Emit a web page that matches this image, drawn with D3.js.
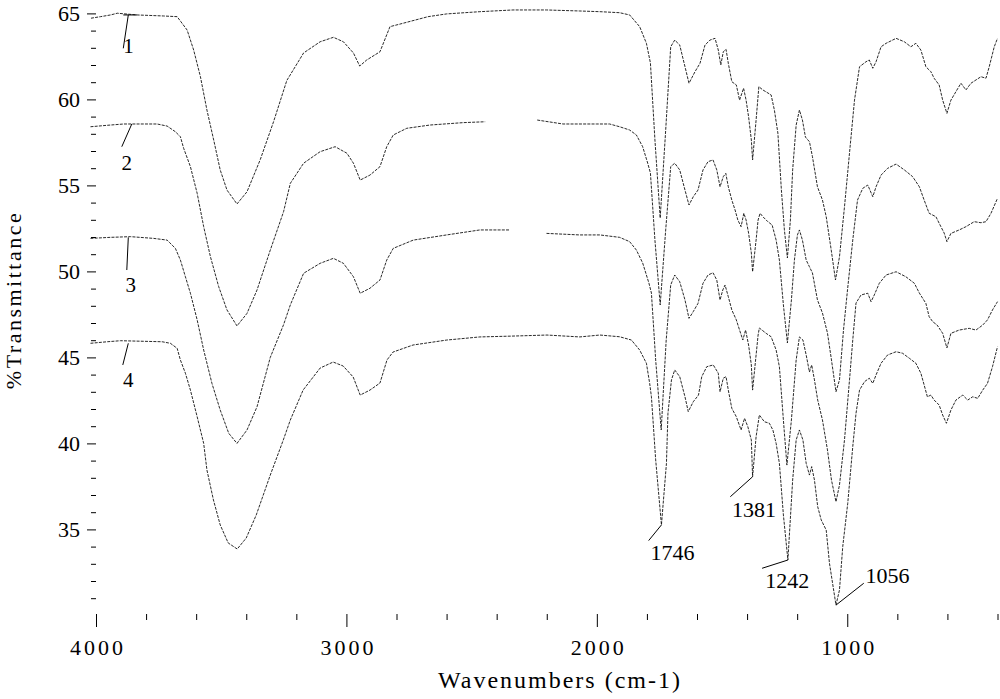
<!DOCTYPE html>
<html><head><meta charset="utf-8">
<script src="https://cdn.jsdelivr.net/npm/d3@7"></script>
<style>
html,body{margin:0;padding:0;background:#fff;}
svg{display:block;}
text{font-family:"Liberation Serif","Times New Roman","DejaVu Serif",serif;fill:#000;}
</style></head><body>
<svg id="chart" width="1000" height="699"></svg>
<script>
// ---- data (wavenumber cm-1, %T) ----
const wn1=[4020,3982,3942,3915,3836,3730,3676,3656,3636,3610,3583,3557,3530,3504,3477,3437,3397,3344,3291,3238,3171,3105,3052,3012,2972,2947,2919,2866,2826,2786,2674,2600,2467,2335,2201,2068,1988,1909,1869,1829,1802,1786,1768,1747,1725,1705,1689,1669,1648,1632,1608,1588,1568,1548,1528,1515,1505,1495,1484,1475,1461,1443,1430,1414,1404,1394,1383,1378,1364,1353,1337,1304,1291,1277,1263,1251,1239,1227,1218,1204,1191,1179,1167,1151,1139,1119,1099,1084,1064,1047,1031,1011,991,971,951,925,912,898,885,865,845,805,772,746,726,706,686,666,653,633,619,602,586,566,546,526,506,486,466,446,433,413,400];
const t1=[64.72,64.81,64.91,65.01,64.91,64.85,64.81,64.42,64.03,62.87,61.32,59.38,57.64,55.90,54.73,53.92,54.63,56.50,58.70,61.10,62.70,63.35,63.61,63.35,62.70,61.94,62.29,62.77,64.23,64.38,64.81,64.97,65.10,65.20,65.20,65.14,65.10,65.04,64.91,64.23,63.26,62.12,57.64,53.10,58.22,63.06,63.45,63.16,61.90,60.94,61.61,62.10,63.16,63.45,63.55,62.87,62.00,62.77,62.91,62.10,61.03,60.84,59.96,60.65,59.96,58.99,57.64,56.48,58.80,60.74,60.55,60.26,59.38,58.04,54.73,52.41,50.78,52.99,55.90,58.51,59.38,58.80,57.81,57.54,56.67,54.92,54.15,53.18,51.24,49.50,50.85,53.76,56.88,59.96,61.90,62.19,62.29,61.81,62.19,63.06,63.26,63.55,63.35,63.06,63.26,62.87,61.90,61.61,61.23,60.84,59.96,59.19,59.96,60.45,60.94,60.55,60.94,61.13,61.32,61.23,61.90,63.06,63.55];

const wn2=[4022,3942,3889,3823,3756,3716,3683,3663,3650,3623,3596,3570,3543,3510,3477,3437,3397,3357,3304,3251,3224,3171,3105,3045,2998,2972,2945,2906,2866,2839,2813,2759,2666,2533,2446,2340,2238,2135,2002,1949,1909,1869,1842,1817,1797,1786,1768,1747,1725,1705,1689,1669,1648,1632,1615,1596,1576,1556,1536,1521,1508,1495,1485,1475,1461,1448,1437,1424,1413,1404,1394,1383,1378,1364,1356,1348,1337,1317,1300,1284,1271,1255,1239,1223,1211,1199,1191,1179,1164,1151,1139,1119,1099,1079,1063,1045,1031,1015,999,978,959,938,918,898,885,865,839,805,772,739,712,693,673,646,626,613,602,586,553,526,493,466,446,426,400];
const t2=[58.41,58.51,58.57,58.57,58.57,58.45,58.12,57.83,57.16,56.09,54.54,52.60,50.85,49.11,47.76,46.83,47.56,48.92,51.24,53.47,55.12,56.29,56.96,57.25,56.87,56.29,55.31,55.60,56.09,57.25,57.93,58.32,58.51,58.65,58.70,null,58.80,58.57,58.57,58.57,58.41,58.22,57.93,57.25,56.30,55.72,51.82,48.05,52.41,56.09,56.29,55.90,54.73,53.86,54.34,54.73,55.90,56.38,56.48,55.90,54.92,55.51,55.70,54.92,54.15,53.57,52.99,52.60,53.38,52.99,52.23,51.07,49.98,51.82,52.99,53.38,53.18,52.89,52.70,51.82,50.66,48.05,45.84,48.34,50.66,52.12,52.41,51.82,50.66,50.27,49.91,48.34,47.58,46.42,44.85,43.00,43.69,46.59,48.92,51.82,54.15,54.83,55.02,54.34,54.92,55.60,55.99,56.24,55.90,55.51,54.92,54.15,53.38,53.18,52.60,52.23,51.73,52.21,52.41,52.60,52.89,52.83,52.89,53.38,54.25];

const wn3=[4022,3942,3862,3770,3716,3683,3663,3643,3623,3596,3570,3537,3504,3470,3437,3397,3357,3304,3251,3224,3171,3105,3052,3012,2972,2945,2906,2866,2839,2813,2733,2600,2467,2347,2270,2201,2068,1988,1909,1869,1842,1817,1792,1782,1765,1743,1723,1705,1689,1669,1648,1632,1615,1596,1576,1556,1536,1521,1508,1497,1488,1475,1461,1443,1430,1417,1406,1394,1383,1378,1364,1356,1351,1324,1304,1284,1271,1255,1241,1223,1204,1191,1177,1164,1151,1142,1131,1118,1099,1079,1063,1045,1031,1011,991,978,965,945,918,905,892,872,845,805,766,732,712,686,673,659,641,619,602,586,553,513,486,459,440,420,400];
const t3=[51.92,51.98,52.02,51.92,51.82,51.34,50.66,49.69,48.73,47.18,45.43,43.49,41.94,40.59,40.00,40.78,42.13,45.00,46.90,48.05,49.89,50.47,50.76,50.47,49.69,48.73,49.02,49.50,50.66,51.34,51.82,52.12,52.41,52.41,null,52.21,52.12,52.12,51.98,51.73,51.24,50.49,49.32,48.74,44.85,40.78,46.01,49.21,49.79,49.40,48.34,47.27,47.66,48.14,49.31,49.79,49.92,49.50,48.34,48.92,49.21,48.53,47.76,47.18,46.59,46.01,46.59,45.72,44.56,43.10,45.14,46.30,46.71,46.40,46.20,45.43,44.46,41.36,38.74,41.36,44.85,46.19,46.01,45.14,44.15,44.56,43.69,42.52,41.36,39.62,37.87,36.61,37.58,40.20,43.69,46.01,48.16,48.63,48.73,48.24,48.63,49.31,49.79,49.98,49.69,49.31,48.74,48.14,47.37,47.08,46.88,46.40,45.55,46.40,46.59,46.69,46.59,46.88,47.18,47.76,48.24];

const wn4=[4022,3955,3902,3736,3703,3676,3663,3643,3623,3596,3570,3557,3531,3504,3472,3436,3400,3360,3304,3252,3224,3173,3105,3053,3013,2973,2945,2906,2866,2838,2814,2734,2599,2467,2335,2199,2068,1988,1909,1862,1829,1802,1789,1782,1765,1742,1722,1716,1702,1689,1669,1648,1635,1615,1594,1581,1561,1535,1515,1508,1495,1484,1475,1461,1443,1424,1410,1397,1383,1378,1364,1351,1331,1311,1297,1284,1271,1255,1237,1218,1204,1191,1177,1164,1151,1142,1131,1118,1104,1084,1071,1045,1031,1018,998,978,965,951,931,912,898,885,865,839,805,779,752,726,706,693,680,666,653,633,619,604,586,566,539,519,499,479,459,440,420,400];
const t4=[45.82,45.91,45.97,45.91,45.82,45.53,44.85,44.08,43.10,41.55,40.00,38.45,36.71,35.26,34.21,33.86,34.50,35.84,38.16,40.20,41.36,43.10,44.38,44.73,44.50,43.86,42.81,43.10,43.51,44.85,45.31,45.72,46.01,46.19,46.24,46.30,46.19,46.30,46.20,46.01,45.43,44.66,43.49,42.71,39.04,35.26,38.84,41.75,43.69,44.27,43.88,42.71,41.85,42.42,42.81,43.88,44.46,44.56,44.08,43.00,43.79,43.88,43.10,42.04,41.55,40.78,41.46,40.97,40.20,38.06,40.39,41.65,41.26,41.17,40.78,40.00,38.84,35.84,33.22,37.87,40.20,40.78,40.20,38.84,38.16,38.65,37.87,36.32,35.55,34.96,33.03,30.60,31.48,34.00,36.52,39.81,41.75,43.10,43.59,43.79,43.49,43.98,44.66,45.14,45.33,45.24,44.95,44.66,44.08,43.40,42.71,42.81,42.52,42.23,41.65,41.17,41.94,42.52,42.81,42.52,42.71,42.62,43.10,43.49,44.46,45.62];

// axes ticks
const yMajorTicks=[35,40,45,50,55,60,65];
const yMinorTicks=[31,32,33,34,36,37,38,39,41,42,43,44,46,47,48,49,51,52,53,54,56,57,58,59,61,62,63,64];
const xMajorTicks=[4000,3000,2000,1000];
const xMajorLabels=["4000","3000","2000","1000"];
const xMinorTicks=[3800,3600,3400,3200,2800,2600,2400,2200,1800,1600,1400,1200,800,600,400];

// series labels (1..4) with leader lines
const seriesNames=["1","2","3","4"];
const leadTopWn=[3871,3857,3871,3871], leadTopT=[64.91,58.57,51.98,45.82];
const leadBotWn=[3891,3897,3877,3893], leadBotT=[62.97,57.25,50.08,44.56];
const nameWn=[3870,3877,3861,3871], nameT=[62.69,55.90,48.80,43.28];

// peak annotations on the bottom spectrum
const peakLabels=["1746","1381","1242","1056"];
const peakWn=[1742,1378,1237,1045], peakT=[35.26,38.06,33.22,30.60];
const peakLeadWn=[1793,1467,1340,934], peakLeadT=[34.35,36.90,32.74,31.87];
const peakTextWn=[1786,1460,1327,927], peakTextT=[33.22,35.72,31.59,31.88];

// ---- drawing ----
const FONT='"Liberation Serif","Times New Roman","DejaVu Serif",serif';
const svg=d3.select("#chart");
const x=d3.scaleLinear().domain([4000,400]).range([96,997.5]);
const y=d3.scaleLinear().domain([30,65]).range([615.4,13.4]);

// x axis
svg.append("g").attr("transform","translate(0,614)")
  .call(d3.axisBottom(x).tickValues(xMinorTicks).tickSize(6).tickFormat(""))
  .call(g=>g.select(".domain").remove());
const gx=svg.append("g").attr("transform","translate(0,614)")
  .call(d3.axisBottom(x).tickValues(xMajorTicks).tickSize(13).tickFormat((d,i)=>xMajorLabels[i]))
  .call(g=>g.select(".domain").remove());
gx.attr("font-family",FONT).attr("font-size",22);
gx.selectAll("text").attr("y",41).attr("dy",null).attr("dx","1.5")
  .attr("font-family",FONT).style("letter-spacing","3px");

// y axis
svg.append("g").attr("transform","translate(96,0)")
  .call(d3.axisLeft(y).tickValues(yMinorTicks).tickSize(5).tickFormat(""))
  .call(g=>g.select(".domain").remove());
const gy=svg.append("g").attr("transform","translate(96,0)")
  .call(d3.axisLeft(y).tickValues(yMajorTicks).tickSize(9).tickPadding(7).tickFormat(d3.format("d")))
  .call(g=>g.select(".domain").remove());
gy.attr("font-family",FONT).attr("font-size",22);
gy.selectAll("text").attr("dy","0.34em").attr("font-family",FONT);
svg.selectAll(".tick line").attr("stroke","#000").attr("stroke-width",1);

// spectra
const series=[[wn1,t1],[wn2,t2],[wn3,t3],[wn4,t4]];
const line=d3.line().defined(d=>d[1]!=null).x(d=>x(d[0])).y(d=>y(d[1]));
series.forEach(([w,t])=>{
  svg.append("path").datum(w.map((v,i)=>[v,t[i]]))
    .attr("d",line).attr("fill","none").attr("stroke","#111")
    .attr("stroke-width",0.9).attr("stroke-dasharray","3,1.2");
});

// series labels
seriesNames.forEach((n,i)=>{
  svg.append("line").attr("x1",x(leadTopWn[i])).attr("y1",y(leadTopT[i]))
    .attr("x2",x(leadBotWn[i])).attr("y2",y(leadBotT[i])).attr("stroke","#000").attr("stroke-width",1);
  svg.append("text").attr("x",x(nameWn[i])).attr("y",y(nameT[i])).attr("text-anchor","middle")
    .attr("font-family",FONT).attr("font-size",21).text(n);
});
// T bar on label 1
svg.append("line").attr("x1",x(3891)).attr("x2",x(3837)).attr("y1",y(leadTopT[0])).attr("y2",y(leadTopT[0]))
  .attr("stroke","#000").attr("stroke-width",1);

// peak annotations
peakLabels.forEach((p,i)=>{
  svg.append("line").attr("x1",x(peakWn[i])).attr("y1",y(peakT[i]))
    .attr("x2",x(peakLeadWn[i])).attr("y2",y(peakLeadT[i])).attr("stroke","#000").attr("stroke-width",1);
  svg.append("text").attr("x",x(peakTextWn[i])).attr("y",y(peakTextT[i]))
    .attr("font-family",FONT).attr("font-size",22).text(p);
});

// axis titles
svg.append("text").attr("x",560).attr("y",688).attr("text-anchor","middle")
  .attr("font-family",FONT).attr("font-size",24).style("letter-spacing","2px").text("Wavenumbers (cm-1)");
svg.append("text").attr("transform","translate(21,300) rotate(-90)").attr("text-anchor","middle")
  .attr("font-family",FONT).attr("font-size",22).style("letter-spacing","2.5px").text("%Transmittance");
</script>
</body></html>
